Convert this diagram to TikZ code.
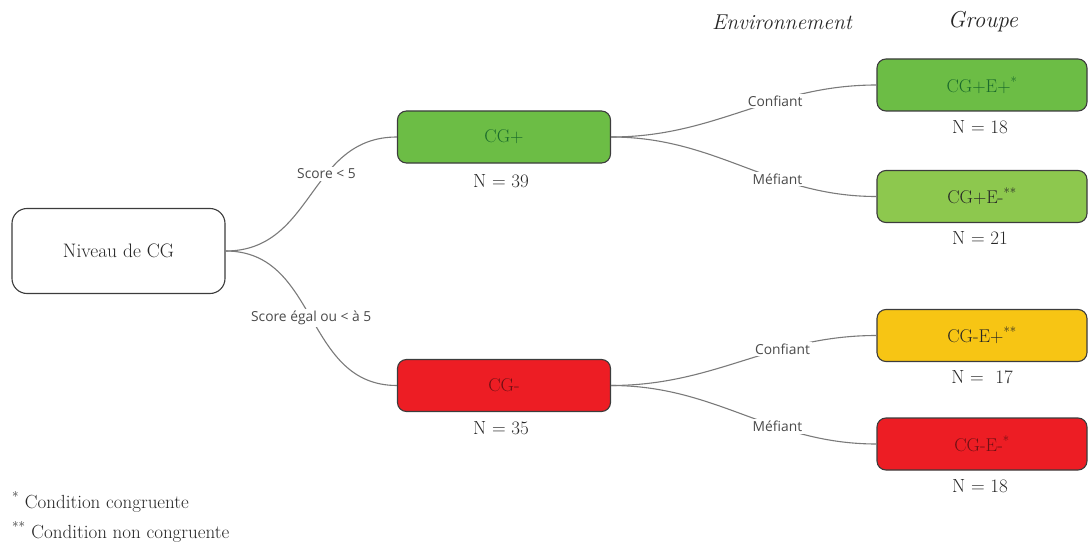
\documentclass[tikz,border=0pt]{standalone}
\usepackage{fontspec}
\newfontfamily\labfont{Open Sans}
\definecolor{boxline}{HTML}{3C3C3C}
\definecolor{linegray}{HTML}{7A7A7A}
\definecolor{labgray}{HTML}{4A4A4A}
\definecolor{textgray}{HTML}{262626}
\definecolor{greenA}{HTML}{6CBD45}
\definecolor{greenB}{HTML}{8DC84E}
\definecolor{yellowA}{HTML}{F7C514}
\definecolor{redA}{HTML}{ED1D24}
\definecolor{greentext}{HTML}{1B6B2C}
\definecolor{redtext}{HTML}{6E1014}
\tikzset{
  box/.style={draw=boxline, line width=1.1pt, rounded corners=9pt, minimum width=213pt,
    minimum height=52pt, inner sep=0pt, font=\fontsize{18.5}{20}\selectfont, text=textgray},
  nlab/.style={font=\fontsize{19}{21}\selectfont, text=textgray, inner sep=0pt},
  elab/.style={font=\labfont\fontsize{13.8}{15}\selectfont, text=labgray, fill=white, inner sep=2pt},
  conn/.style={draw=linegray, line width=1.1pt},
  head/.style={font=\itshape\fontsize{21.5}{23}\selectfont, text=textgray, inner sep=0pt},
  foot/.style={font=\fontsize{19}{21}\selectfont, text=textgray, inner sep=0pt, anchor=west}
}
\begin{document}
\begin{tikzpicture}[x=1pt,y=-1pt]
\useasboundingbox (0,0) rectangle (1088,543);
% headers
\node[head] (henv) at (782,22) {Environnement};
\node[head] (hgrp) at (983,22) {\fontsize{23}{24}\selectfont Groupe};
% root
\node[box, minimum width=213pt, minimum height=85pt, rounded corners=15pt, fill=white, font=\fontsize{19.5}{21}\selectfont] (root) at (118.5,251) {Niveau de CG};
% level 1
\node[box, fill=greenA, text=greentext] (cgp) at (504,137) {CG+};
\node[nlab] (ncgp) at (501,181) {N = 39};
\node[box, fill=redA, text=redtext] (cgm) at (504,385.5) {CG-};
\node[nlab] (ncgm) at (501,428) {N = 35};
% level 2
\node[box, minimum width=210pt, fill=greenA, text=greentext] (pp) at (982,85) {CG+E+\textsuperscript{*}};
\node[nlab] (npp) at (980,127) {N = 18};
\node[box, minimum width=210pt, fill=greenB] (pm) at (982,196.5) {CG+E-\textsuperscript{**}};
\node[nlab] (npm) at (980,238) {N = 21};
\node[box, minimum width=210pt, fill=yellowA] (mp) at (982,335.5) {CG-E+\textsuperscript{**}};
\node[nlab] (nmp) at (982,377) {N = \ 17};
\node[box, minimum width=210pt, fill=redA, text=redtext] (mm) at (982,444) {CG-E-\textsuperscript{*}};
\node[nlab] (nmm) at (980,486) {N = 18};
% connectors
\draw[conn] (root.east) to[out=0,in=180,looseness=1.1] node[elab,pos=0.62] {Score < 5} (cgp.west);
\draw[conn] (root.east) to[out=0,in=180,looseness=1.1] node[elab,pos=0.5] {Score égal ou < à 5} (cgm.west);
\draw[conn] (cgp.east) to[out=0,in=180] node[elab,pos=0.63] {Confiant} (pp.west);
\draw[conn] (cgp.east) to[out=0,in=180] node[elab,pos=0.64] {Méfiant} (pm.west);
\draw[conn] (cgm.east) to[out=0,in=180] node[elab,pos=0.66] {Confiant} (mp.west);
\draw[conn] (cgm.east) to[out=0,in=180] node[elab,pos=0.64] {Méfiant} (mm.west);
% footnotes
\node[foot] (f1) at (12,502) {\textsuperscript{*} Condition congruente};
\node[foot] (f2) at (12,532) {\textsuperscript{**} Condition non congruente};
\end{tikzpicture}
\end{document}
